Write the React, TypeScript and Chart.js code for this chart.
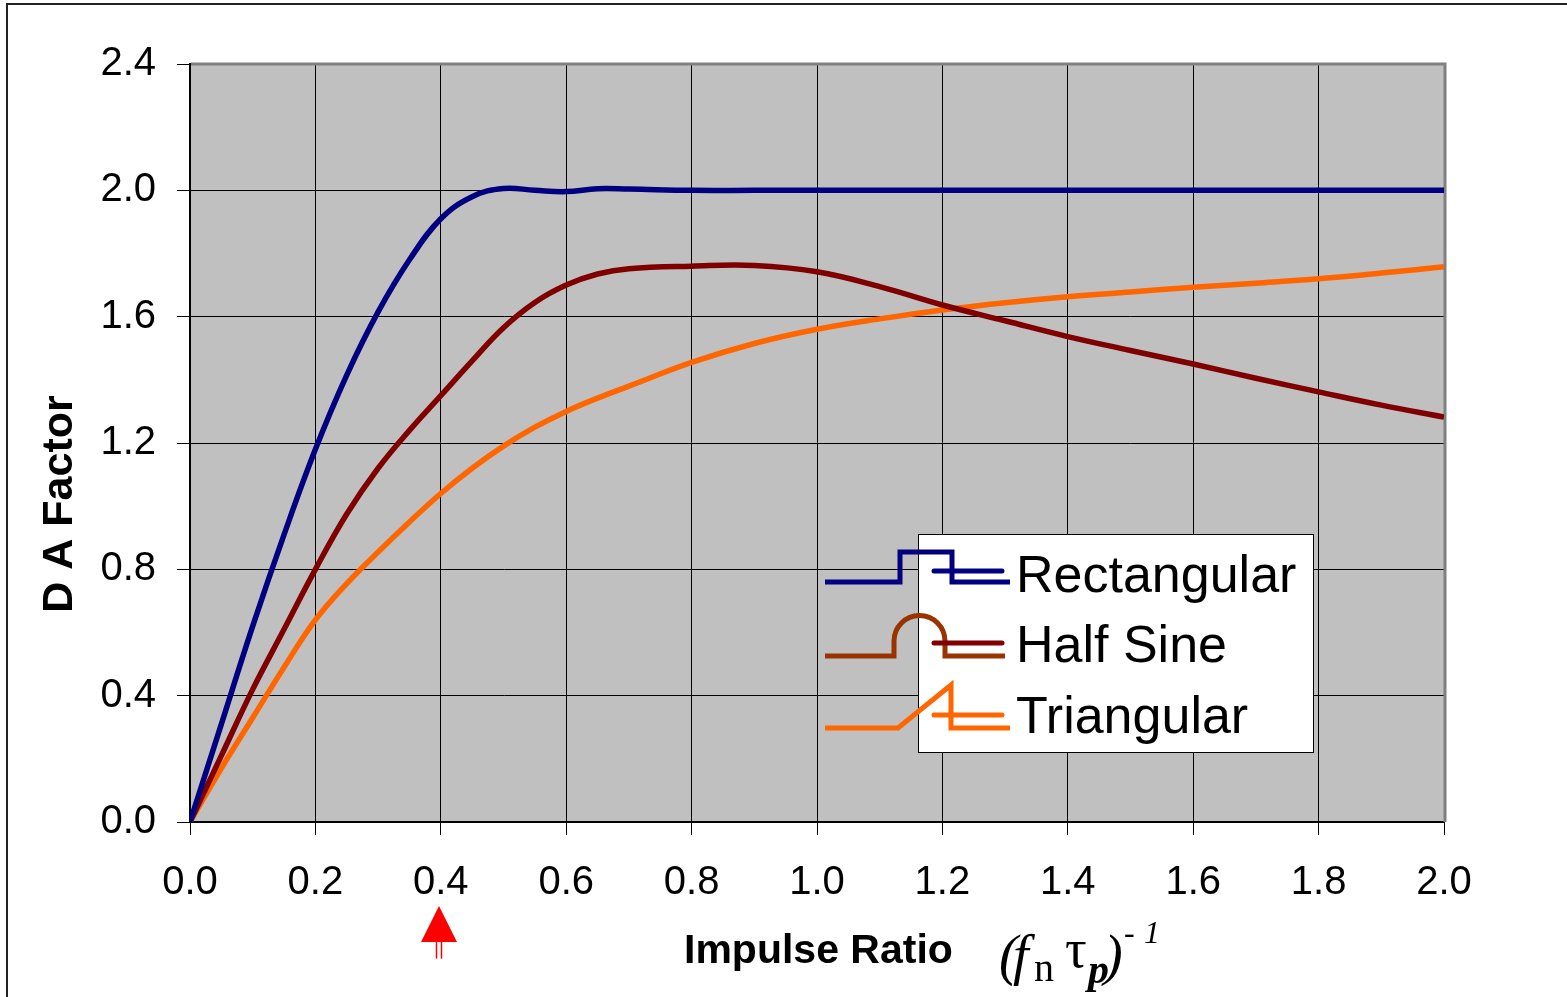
import React, { useEffect, useRef } from "react";
import { Chart, registerables } from "chart.js";

Chart.register(...registerables);

// ---- Data ----
const impulseRatio = [
  0, 0.05, 0.1, 0.15, 0.2, 0.25, 0.3, 0.35, 0.4, 0.45, 0.5, 0.55, 0.6, 0.65, 0.7,
  0.8, 0.9, 1.0, 1.1, 1.2, 1.3, 1.4, 1.5, 1.6, 1.7, 1.8, 1.9, 2.0,
];
const rectangularDAF = [
  0, 0.31, 0.62, 0.91, 1.18, 1.415, 1.615, 1.78, 1.91, 1.98, 2.006, 2.0, 1.996, 2.005, 2.004,
  2.0, 2.0, 2.0, 2.0, 2.0, 2.0, 2.0, 2.0, 2.0, 2.0, 2.0, 2.0, 2.0,
];
const halfSineDAF = [
  0, 0.21, 0.42, 0.61, 0.8, 0.975, 1.12, 1.24, 1.35, 1.46, 1.565, 1.645, 1.7, 1.735, 1.752,
  1.76, 1.762, 1.742, 1.695, 1.637, 1.587, 1.537, 1.493, 1.45, 1.405, 1.362, 1.32, 1.282,
];
const triangularDAF = [
  0, 0.17, 0.33, 0.49, 0.64, 0.755, 0.855, 0.95, 1.04, 1.12, 1.19, 1.25, 1.3, 1.342, 1.38,
  1.455, 1.515, 1.56, 1.593, 1.621, 1.644, 1.663, 1.678, 1.693, 1.706, 1.72, 1.738, 1.758,
];
const seriesNames = ["Rectangular", "Half Sine", "Triangular"];
const seriesColors = ["#000080", "#800000", "#FF6600"];
const yAxisTitle = "D A Factor";
const xAxisTitle = "Impulse Ratio";
const markedRatio = 0.4;

const SANS = "'Liberation Sans', Arial, sans-serif";
const SERIF = "'Liberation Serif', 'Times New Roman', serif";

const decorPlugin = {
  id: "decor",
  beforeDraw(chart: any) {
    const { ctx, chartArea: a } = chart;
    ctx.save();
    ctx.fillStyle = "#ffffff";
    ctx.fillRect(0, 0, chart.width, chart.height);
    // outer frame
    ctx.strokeStyle = "#222";
    ctx.lineWidth = 2;
    ctx.beginPath();
    ctx.moveTo(7, chart.height + 2);
    ctx.lineTo(7, 4);
    ctx.lineTo(chart.width + 2, 4);
    ctx.stroke();
    // plot background
    ctx.fillStyle = "#C0C0C0";
    ctx.fillRect(a.left, a.top, a.right - a.left, a.bottom - a.top);
    ctx.restore();
  },
  beforeDatasetsDraw(chart: any) {
    const { ctx, chartArea: a } = chart;
    ctx.save();
    ctx.strokeStyle = "#808080";
    ctx.lineWidth = 3;
    ctx.beginPath();
    ctx.moveTo(a.left + 1, a.top);
    ctx.lineTo(a.right + 1, a.top);
    ctx.lineTo(a.right + 1, a.bottom);
    ctx.stroke();
    ctx.restore();
  },
  afterDraw(chart: any) {
    const { ctx } = chart;
    const xs = chart.scales.x;
    ctx.save();

    // ---- legend ----
    const bx = 918, by = 534, bw = 395, bh = 218;
    ctx.fillStyle = "#ffffff";
    ctx.fillRect(bx, by, bw, bh);
    ctx.strokeStyle = "#000";
    ctx.lineWidth = 1;
    ctx.strokeRect(bx + 0.5, by + 0.5, bw, bh);

    ctx.lineWidth = 5;
    ctx.lineJoin = "miter";
    ctx.lineCap = "butt";
    // rectangular pulse icon
    ctx.strokeStyle = seriesColors[0];
    ctx.beginPath();
    ctx.moveTo(825, 582);
    ctx.lineTo(900, 582);
    ctx.lineTo(900, 552);
    ctx.lineTo(952, 552);
    ctx.lineTo(952, 582);
    ctx.lineTo(1010, 582);
    ctx.stroke();
    ctx.lineCap = "round";
    ctx.beginPath();
    ctx.moveTo(934, 571);
    ctx.lineTo(1002, 571);
    ctx.stroke();

    // half sine icon
    ctx.lineCap = "butt";
    ctx.strokeStyle = "#993300";
    ctx.beginPath();
    ctx.moveTo(825, 656);
    ctx.lineTo(894, 656);
    ctx.lineTo(894, 641);
    ctx.arc(919.5, 641, 25.5, Math.PI, 0, false);
    ctx.lineTo(945, 656);
    ctx.lineTo(1005, 656);
    ctx.stroke();
    ctx.strokeStyle = seriesColors[1];
    ctx.lineCap = "round";
    ctx.beginPath();
    ctx.moveTo(934, 643);
    ctx.lineTo(1002, 643);
    ctx.stroke();

    // triangular icon
    ctx.lineCap = "butt";
    ctx.strokeStyle = seriesColors[2];
    ctx.beginPath();
    ctx.moveTo(825, 728);
    ctx.lineTo(898, 728);
    ctx.lineTo(951, 685);
    ctx.lineTo(951, 728);
    ctx.lineTo(1010, 728);
    ctx.stroke();
    ctx.lineCap = "round";
    ctx.beginPath();
    ctx.moveTo(934, 715);
    ctx.lineTo(1002, 715);
    ctx.stroke();

    ctx.fillStyle = "#000";
    ctx.font = `52px ${SANS}`;
    ctx.textAlign = "left";
    ctx.textBaseline = "alphabetic";
    ctx.fillText(seriesNames[0], 1016, 592);
    ctx.fillText(seriesNames[1], 1016, 662);
    ctx.fillText(seriesNames[2], 1016, 733);

    // ---- axis titles ----
    ctx.font = `bold 43px ${SANS}`;
    ctx.save();
    ctx.translate(72, 504);
    ctx.rotate(-Math.PI / 2);
    ctx.textAlign = "center";
    ctx.fillText(yAxisTitle, 0, 0);
    ctx.restore();

    ctx.font = `bold 41px ${SANS}`;
    ctx.textAlign = "left";
    ctx.fillText(xAxisTitle, 684, 963);

    // (f_n tau_p)^-1
    ctx.font = `italic 56px ${SERIF}`;
    ctx.fillText("(", 999, 974);
    ctx.fillText("f", 1013, 974);
    ctx.font = `40px ${SERIF}`;
    ctx.fillText("n", 1034, 981);
    ctx.font = `54px ${SERIF}`;
    ctx.fillText("\u03C4", 1065, 967);
    ctx.font = `italic bold 42px ${SERIF}`;
    ctx.fillText("p", 1088, 983);
    ctx.font = `italic 56px ${SERIF}`;
    ctx.fillText(")", 1104, 974);
    ctx.font = `italic 32px ${SERIF}`;
    ctx.fillText("-", 1124, 943);
    ctx.fillText("1", 1144, 943);

    // ---- red marker arrow ----
    const ax = Math.round(xs.getPixelForValue(markedRatio)) - 2;
    ctx.fillStyle = "#FF0000";
    ctx.beginPath();
    ctx.moveTo(ax, 906);
    ctx.lineTo(ax + 18, 942);
    ctx.lineTo(ax - 18, 942);
    ctx.closePath();
    ctx.fill();
    ctx.strokeStyle = "#FF0000";
    ctx.lineWidth = 1.5;
    ctx.beginPath();
    ctx.moveTo(ax - 2.5, 942);
    ctx.lineTo(ax - 2.5, 958);
    ctx.moveTo(ax + 2.5, 942);
    ctx.lineTo(ax + 2.5, 958);
    ctx.stroke();

    ctx.restore();
  },
};

export default function App() {
  const canvasRef = useRef<HTMLCanvasElement>(null);

  useEffect(() => {
    const canvas = canvasRef.current;
    if (!canvas) return;
    const mk = (vals: number[]) => impulseRatio.map((x, i) => ({ x, y: vals[i] }));
    const chart = new Chart(canvas, {
      type: "line",
      data: {
        datasets: [
          { label: seriesNames[0], data: mk(rectangularDAF), borderColor: seriesColors[0] },
          { label: seriesNames[1], data: mk(halfSineDAF), borderColor: seriesColors[1] },
          { label: seriesNames[2], data: mk(triangularDAF), borderColor: seriesColors[2] },
        ].map((d) => ({
          ...d,
          borderWidth: 5.5,
          pointRadius: 0,
          fill: false,
          tension: 0.4,
        })),
      },
      options: {
        responsive: false,
        animation: false,
        devicePixelRatio: 1,
        layout: { padding: { left: 0, top: 64, right: 123, bottom: 0 } },
        plugins: {
          legend: { display: false },
          tooltip: { enabled: false },
          title: { display: false },
        },
        scales: {
          x: {
            type: "linear",
            min: 0,
            max: 2,
            ticks: {
              stepSize: 0.2,
              autoSkip: false,
              maxRotation: 0,
              padding: 24,
              color: "#000",
              font: { family: SANS, size: 40 },
              callback: (v: any) => Number(v).toFixed(1),
            },
            grid: { color: "#000", lineWidth: 1, tickLength: 13, tickColor: "#000" },
            border: { color: "#000", width: 2 },
            afterFit: (s: any) => {
              s.height = 175;
            },
          },
          y: {
            type: "linear",
            min: 0,
            max: 2.4,
            ticks: {
              stepSize: 0.4,
              padding: 21,
              color: "#000",
              font: { family: SANS, size: 40 },
              callback: (v: any) => Number(v).toFixed(1),
            },
            grid: { color: "#000", lineWidth: 1, tickLength: 13, tickColor: "#000" },
            border: { color: "#000", width: 2 },
            afterFit: (s: any) => {
              s.width = 190;
            },
          },
        },
      },
      plugins: [decorPlugin],
    });
    return () => chart.destroy();
  }, []);

  return (
    <div style={{ position: "fixed", left: 0, top: 0, width: 1567, height: 997, background: "#fff" }}>
      <canvas ref={canvasRef} width={1567} height={997} style={{ display: "block", width: 1567, height: 997 }} />
    </div>
  );
}
